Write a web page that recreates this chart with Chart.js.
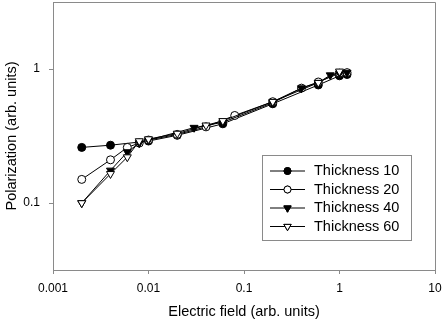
<!DOCTYPE html>
<html>
<head>
<meta charset="utf-8">
<script src="https://cdn.jsdelivr.net/npm/chart.js@4/dist/chart.umd.min.js"></script>
<style>
  html, body { margin: 0; padding: 0; background: #fff; }
  #wrap { width: 443px; height: 321px; position: relative; }
</style>
</head>
<body>
<div id="wrap"><canvas id="chart"></canvas></div>
<script>
// data (log-log)
const seriesNames = ['Thickness 10', 'Thickness 20', 'Thickness 40', 'Thickness 60'];

const x10 = [0.002, 0.004, 0.01, 0.02, 0.06, 0.2, 0.6, 1.0, 1.2];
const y10 = [0.26, 0.27, 0.29, 0.32, 0.39, 0.55, 0.76, 0.89, 0.91];

const x20 = [0.002, 0.004, 0.006, 0.008, 0.01, 0.02, 0.04, 0.08, 0.2, 0.4, 0.6, 1.0, 1.2];
const y20 = [0.15, 0.21, 0.26, 0.28, 0.295, 0.325, 0.37, 0.45, 0.57, 0.72, 0.8, 0.93, 0.94];

const x40 = [0.002, 0.004, 0.006, 0.008, 0.01, 0.03, 0.06, 0.2, 0.4, 0.6, 0.8, 1.0, 1.2];
const y40 = [0.1, 0.175, 0.24, 0.28, 0.295, 0.365, 0.4, 0.56, 0.72, 0.79, 0.9, 0.93, 0.94];

const x60 = [0.002, 0.004, 0.006, 0.008, 0.01, 0.02, 0.04, 0.06, 0.2, 0.6, 1.0];
const y60 = [0.1, 0.165, 0.22, 0.29, 0.3, 0.33, 0.38, 0.41, 0.57, 0.79, 0.96];

const xTicks = [0.001, 0.01, 0.1, 1, 10];
const yTicks = [0.1, 1];

const FONT = "'Liberation Sans', Arial, sans-serif";
const AXIS_GREY = '#8a8a8a';

function pts(xs, ys) {
  return xs.map((x, i) => ({ x: x, y: ys[i] }));
}

// top/right frame of the plot box
const frame = {
  id: 'frame',
  afterDatasetsDraw(chart) {
    const { ctx, chartArea: a } = chart;
    ctx.save();
    ctx.strokeStyle = AXIS_GREY;
    ctx.lineWidth = 1;
    ctx.beginPath();
    ctx.moveTo(a.left, a.top + 0.5);
    ctx.lineTo(a.right + 0.5, a.top + 0.5);
    ctx.lineTo(a.right + 0.5, a.bottom);
    ctx.stroke();
    ctx.restore();
  }
};

// boxed legend with line + marker samples
const boxLegend = {
  id: 'boxLegend',
  afterDraw(chart) {
    const ctx = chart.ctx;
    const bx = 262.5, by = 155.5, bw = 149, bh = 85;
    ctx.save();
    ctx.fillStyle = '#fff';
    ctx.fillRect(bx, by, bw, bh);
    ctx.strokeStyle = AXIS_GREY;
    ctx.lineWidth = 1;
    ctx.strokeRect(bx, by, bw, bh);
    chart.data.datasets.forEach((ds, i) => {
      const y = 171 + i * 18.5;
      ctx.strokeStyle = '#000';
      ctx.lineWidth = 1;
      ctx.beginPath();
      ctx.moveTo(270, y);
      ctx.lineTo(305, y);
      ctx.stroke();
      Chart.helpers.drawPoint(ctx, {
        pointStyle: ds.pointStyle,
        radius: ds.pointStyle === 'circle' ? 3.5 : 4.2,
        rotation: ds.rotation || 0,
        borderWidth: 1
      }, 287.5, y);
      ctx.fillStyle = ds.pointBackgroundColor;
      ctx.strokeStyle = '#000';
      ctx.fill();
      ctx.stroke();
      ctx.fillStyle = '#000';
      ctx.font = '14.5px ' + FONT;
      ctx.textBaseline = 'middle';
      ctx.textAlign = 'left';
      ctx.fillText(ds.label, 314, y);
    });
    ctx.restore();
  }
};

function makeSet(label, data, style, fill, rot, order, r) {
  return {
    label: label,
    data: data,
    borderColor: '#000',
    borderWidth: 1,
    pointStyle: style,
    rotation: rot,
    pointRadius: r,
    pointBorderColor: '#000',
    pointBackgroundColor: fill,
    pointBorderWidth: 1,
    showLine: true,
    tension: 0,
    order: order
  };
}

new Chart(document.getElementById('chart'), {
  type: 'line',
  data: {
    datasets: [
      makeSet(seriesNames[0], pts(x10, y10), 'circle', '#000', 0, 3, 4),
      makeSet(seriesNames[1], pts(x20, y20), 'circle', '#fff', 0, 2, 4),
      makeSet(seriesNames[2], pts(x40, y40), 'triangle', '#000', 180, 1, 4.6),
      makeSet(seriesNames[3], pts(x60, y60), 'triangle', '#fff', 180, 0, 4.6)
    ]
  },
  options: {
    responsive: true,
    maintainAspectRatio: false,
    animation: false,
    layout: { autoPadding: false, padding: { top: 2, right: 8, left: 0, bottom: 0 } },
    plugins: { legend: { display: false }, tooltip: { enabled: false } },
    scales: {
      x: {
        type: 'logarithmic',
        min: 0.001,
        max: 10,
        afterBuildTicks: (s) => { s.ticks = xTicks.map(v => ({ value: v })); },
        afterFit: (s) => { s.height = 51; s.paddingLeft = 0; s.paddingRight = 0; },
        grid: { drawOnChartArea: false, drawTicks: true, tickLength: 4, color: AXIS_GREY },
        border: { color: AXIS_GREY },
        ticks: {
          color: '#000',
          font: { family: FONT, size: 12 },
          padding: 7,
          maxRotation: 0,
          autoSkip: false,
          callback: (v) => String(v)
        },
        title: {
          display: true,
          text: 'Electric field (arb. units)',
          color: '#000',
          font: { family: FONT, size: 14.5 },
          padding: { top: 4, bottom: 0 }
        }
      },
      y: {
        type: 'logarithmic',
        min: Math.pow(10, -1.5),
        max: Math.pow(10, 0.5),
        afterBuildTicks: (s) => { s.ticks = yTicks.map(v => ({ value: v })); },
        afterFit: (s) => { s.width = 53; s.paddingTop = 0; s.paddingBottom = 0; },
        grid: { drawOnChartArea: false, drawTicks: true, tickLength: 4, color: AXIS_GREY },
        border: { color: AXIS_GREY },
        ticks: {
          color: '#000',
          font: { family: FONT, size: 12 },
          padding: 9,
          autoSkip: false,
          callback: (v) => String(v)
        },
        title: {
          display: true,
          text: 'Polarization (arb. units)',
          color: '#000',
          font: { family: FONT, size: 14.5 },
          padding: { top: 3, bottom: 0 }
        }
      }
    }
  },
  plugins: [frame, boxLegend]
});
</script>
</body>
</html>
